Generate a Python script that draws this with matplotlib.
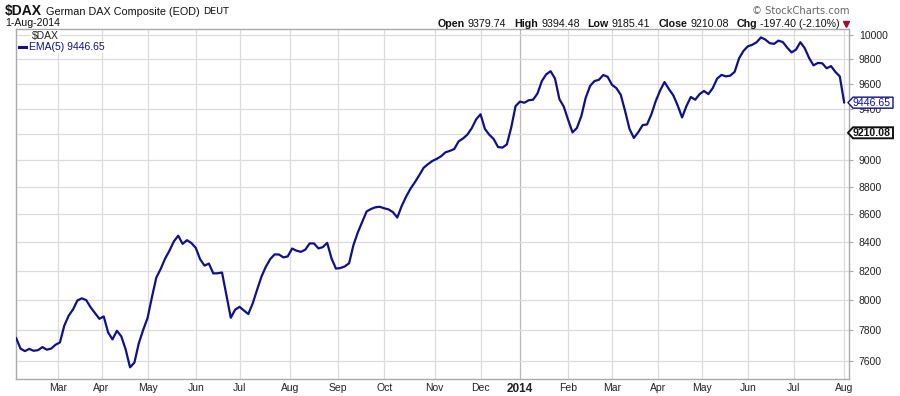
import numpy as np
import pandas as pd
import matplotlib
matplotlib.use('Agg')
import matplotlib.pyplot as plt
from matplotlib.transforms import IdentityTransform
from matplotlib.patches import Polygon
from matplotlib.lines import Line2D
from matplotlib.ticker import NullLocator

plt.rcParams['font.family'] = ['Liberation Sans', 'DejaVu Sans']

# ---------------- data ----------------
start_date = '2013-02-04'
end_date = '2014-08-01'
holidays = ['2013-03-29', '2013-04-01', '2013-05-01', '2013-12-24', '2013-12-25',
            '2013-12-26', '2013-12-31', '2014-01-01', '2014-04-18', '2014-04-21',
            '2014-05-01']
# EMA(5) sampled every second trading day
ema5 = [
    7750, 7680, 7664, 7678, 7666, 7670, 7690, 7673, 7680, 7705,
    7720, 7830, 7896, 7938, 7998, 8012, 8000, 7952, 7913, 7875,
    7891, 7785, 7740, 7796, 7760, 7675, 7560, 7590, 7714, 7802,
    7880, 8020, 8153, 8213, 8284, 8340, 8405, 8446, 8388, 8414,
    8394, 8360, 8280, 8236, 8250, 8182, 8183, 8188, 8032, 7882,
    7936, 7955, 7930, 7907, 7978, 8070, 8160, 8228, 8281, 8314,
    8313, 8293, 8300, 8355, 8340, 8332, 8347, 8391, 8391, 8356,
    8365, 8395, 8285, 8215, 8219, 8230, 8252, 8380, 8470, 8545,
    8620, 8638, 8650, 8654, 8643, 8635, 8615, 8576, 8659, 8727,
    8786, 8834, 8886, 8942, 8970, 8994, 9010, 9030, 9060, 9071,
    9085, 9144, 9166, 9196, 9246, 9315, 9355, 9240, 9195, 9162,
    9100, 9096, 9120, 9250, 9420, 9455, 9446, 9466, 9470, 9520,
    9620, 9675, 9700, 9640, 9475, 9415, 9310, 9213, 9248, 9340,
    9485, 9580, 9620, 9630, 9669, 9655, 9590, 9563, 9510, 9380,
    9240, 9170, 9215, 9270, 9275, 9355, 9460, 9545, 9612, 9555,
    9505, 9424, 9330, 9420, 9492, 9470, 9515, 9540, 9515, 9563,
    9640, 9670, 9658, 9664, 9695, 9805, 9867, 9905, 9918, 9939,
    9980, 9962, 9932, 9926, 9953, 9941, 9894, 9855, 9878, 9940,
    9890, 9808, 9748, 9768, 9765, 9724, 9742, 9694, 9658, 9446.65,
]
month_labels = ['Mar', 'Apr', 'May', 'Jun', 'Jul', 'Aug', 'Sep', 'Oct', 'Nov', 'Dec',
                '2014', 'Feb', 'Mar', 'Apr', 'May', 'Jun', 'Jul', 'Aug']
y_ticks = [7600, 7800, 8000, 8200, 8400, 8600, 8800, 9000, 9200, 9400,
           9600, 9800, 10000]
ema_last = 9446.65
close_last = 9210.08
quote_fields = [('Open', '9379.74'), ('High', '9394.48'), ('Low', '9185.41'),
                ('Close', '9210.08'), ('Chg', '-197.40 (-2.10%)')]

# ---------------- figure ----------------
W, H = 900, 396
NAVY = '#10108c'
GRID = '#dcdcdc'
fig = plt.figure(figsize=(W / 100, H / 100), dpi=100)
ax = fig.add_axes([16 / W, (H - 379) / H, 833 / W, 350 / H])

days = pd.bdate_range(start_date, end_date)
days = days[~days.isin(pd.to_datetime(holidays))]
idx = np.arange(len(days))
sample_idx = idx[::2]
ax.plot(sample_idx, ema5, color=NAVY, lw=1.6, solid_joinstyle='round',
        solid_capstyle='round', zorder=3)

ax.set_yscale('log')
ax.set_xlim(-0.05, 380.2)
ax.set_ylim(7486, 10051)

# month starts
per = days.to_period('M')
first = np.r_[True, per[1:] != per[:-1]]
month_pos = idx[first][1:]
for pos, lab in zip(month_pos, month_labels):
    ax.axvline(pos, color='#b8b8b8' if lab == '2014' else GRID, lw=0.9, zorder=1)
for t in y_ticks:
    ax.axhline(t, color=GRID, lw=0.9, zorder=1)

ax.set_xticks(month_pos)
ax.set_xticklabels(month_labels)
ax.tick_params(axis='x', length=0, pad=3, labelsize=7.5, colors='#222222')
for lbl in ax.get_xticklabels():
    if lbl.get_text() == '2014':
        lbl.set_fontweight('bold')
        lbl.set_fontsize(8.5)

ax.yaxis.tick_right()
ax.set_yticks(y_ticks)
# the close tag hides the label of the tick it sits on
ylabels = ['' if abs(t - close_last) < 50 else str(t) for t in y_ticks]
ax.set_yticklabels(ylabels)
ax.yaxis.set_minor_locator(NullLocator())
ax.tick_params(axis='y', length=3, pad=4, labelsize=7.5, color='#aaaaaa',
               labelcolor='#222222')
for s in ax.spines.values():
    s.set_color('#aaaaaa')
    s.set_linewidth(1.0)

# ---------------- texts ----------------
fig.canvas.draw()
r = fig.canvas.get_renderer()


def ftext(x, y, s, **kw):
    return fig.text(x / W, 1 - y / H, s, va='center', ha='left', **kw)


def width(t):
    return t.get_window_extent(r).width


t1 = ftext(5, 11, '$DAX', fontsize=10, fontweight='bold', color='#111111')
x = 5 + width(t1) + 4
t2 = ftext(x, 12, 'German DAX Composite (EOD)', fontsize=7.8, color='#111111')
x += width(t2) + 4
ftext(x, 12, 'DEUT', fontsize=6.8, family='DejaVu Sans', color='#111111')
ftext(5, 23, '1-Aug-2014', fontsize=7.6, color='#111111')

fig.text(849 / W, 1 - 11 / H, '\u00a9 StockCharts.com', fontsize=7.2,
         family='DejaVu Sans', color='#666666', ha='right', va='center')

# quote line, right-aligned
pieces = []
for lab, val in quote_fields:
    pieces.append((lab, 'bold', 3))
    pieces.append((val, 'normal', 8))
texts = []
total = 0
for s, wgt, gap in pieces:
    t = ftext(0, 24, s, fontsize=7.7, fontweight=wgt, color='#111111')
    texts.append((t, gap))
    total += width(t) + gap
total -= pieces[-1][2]
x = 840 - total
for t, gap in texts:
    t.set_x(x / W)
    x += width(t) + gap
fig.add_artist(Line2D([846 / W], [1 - 24 / H], marker='v', markersize=4.5,
                      color='#9b1030', lw=0, transform=fig.transFigure))

# legend inside plot
ftext(32, 36, '$DAX', fontsize=7.5, color='#222222',
      bbox=dict(facecolor='white', edgecolor='none', pad=1.0))
ftext(29, 47, 'EMA(5) 9446.65', fontsize=7.5, color=NAVY,
      bbox=dict(facecolor='white', edgecolor='none', pad=1.0))
fig.add_artist(Line2D([19 / W, 27.5 / W], [1 - 47 / H] * 2, color=NAVY, lw=2.2,
                      transform=fig.transFigure))


# value tags on the right axis
def value_tag(val, text, edge, tcolor, weight, lw):
    yp = ax.transData.transform((0, val))[1]
    pts = [(848, yp), (853, yp + 5.5), (893, yp + 5.5), (893, yp - 5.5),
           (853, yp - 5.5)]
    fig.add_artist(Polygon(pts, closed=True, facecolor='white', edgecolor=edge,
                           lw=lw, transform=IdentityTransform(), zorder=5))
    fig.text(872 / W, yp / H, text, fontsize=7.6, color=tcolor, fontweight=weight,
             ha='center', va='center', zorder=6)


value_tag(ema_last, f'{ema_last:.2f}', NAVY, NAVY, 'normal', 1.0)
value_tag(close_last, f'{close_last:.2f}', '#111111', '#111111', 'bold', 1.4)

fig.savefig('out.png', dpi=100)
